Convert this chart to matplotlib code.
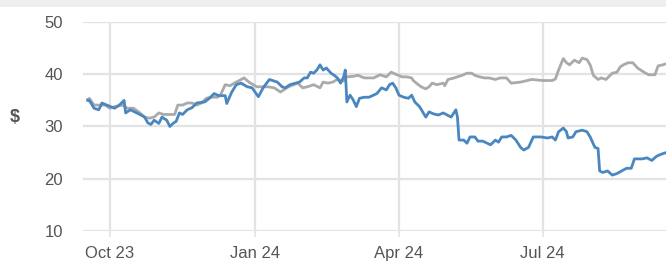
import matplotlib
matplotlib.use("Agg")
import matplotlib.pyplot as plt
import pandas as pd
from matplotlib.patches import Rectangle

# Serie azul
blue_dates = [
    "2023-09-17", "2023-09-18", "2023-09-21", "2023-09-24", "2023-09-26", "2023-09-29",
    "2023-10-04", "2023-10-07", "2023-10-10", "2023-10-11", "2023-10-14", "2023-10-20",
    "2023-10-23", "2023-10-25", "2023-10-27", "2023-10-29", "2023-11-01", "2023-11-03",
    "2023-11-06", "2023-11-08", "2023-11-10", "2023-11-12", "2023-11-14", "2023-11-16",
    "2023-11-19", "2023-11-22", "2023-11-25", "2023-11-30", "2023-12-03", "2023-12-06",
    "2023-12-09", "2023-12-13", "2023-12-14", "2023-12-17", "2023-12-20", "2023-12-23",
    "2023-12-27", "2023-12-30", "2024-01-03", "2024-01-06", "2024-01-10", "2024-01-15",
    "2024-01-18", "2024-01-20", "2024-01-23", "2024-01-29", "2024-02-01", "2024-02-03",
    "2024-02-05", "2024-02-07", "2024-02-09", "2024-02-11", "2024-02-13", "2024-02-15",
    "2024-02-18", "2024-02-20", "2024-02-22", "2024-02-24", "2024-02-26", "2024-02-27",
    "2024-02-28", "2024-03-01", "2024-03-03", "2024-03-05", "2024-03-07", "2024-03-10",
    "2024-03-13", "2024-03-18", "2024-03-21", "2024-03-24", "2024-03-26", "2024-03-28",
    "2024-03-30", "2024-04-01", "2024-04-04", "2024-04-07", "2024-04-09", "2024-04-11",
    "2024-04-14", "2024-04-16", "2024-04-18", "2024-04-20", "2024-04-23", "2024-04-26",
    "2024-04-29", "2024-05-04", "2024-05-07", "2024-05-08", "2024-05-09", "2024-05-12",
    "2024-05-14", "2024-05-16", "2024-05-19", "2024-05-21", "2024-05-24", "2024-05-29",
    "2024-06-01", "2024-06-03", "2024-06-05", "2024-06-08", "2024-06-11", "2024-06-14",
    "2024-06-17", "2024-06-19", "2024-06-22", "2024-06-25", "2024-06-30", "2024-07-04",
    "2024-07-07", "2024-07-09", "2024-07-11", "2024-07-14", "2024-07-16", "2024-07-17",
    "2024-07-20", "2024-07-22", "2024-07-26", "2024-07-29", "2024-07-31", "2024-08-03",
    "2024-08-05", "2024-08-06", "2024-08-08", "2024-08-11", "2024-08-14", "2024-08-17",
    "2024-08-20", "2024-08-23", "2024-08-26", "2024-08-28", "2024-09-02", "2024-09-05",
    "2024-09-08", "2024-09-11", "2024-09-14", "2024-09-17",
]
blue_values = [
    35.0, 35.0, 33.5, 33.2, 34.5, 34.1,
    33.5, 34.1, 35.0, 32.6, 33.2, 32.3,
    31.8, 30.7, 30.4, 31.2, 30.6, 31.8,
    31.2, 30.0, 30.6, 31.0, 32.6, 32.3,
    33.2, 33.6, 34.5, 34.7, 35.4, 36.3,
    35.9, 35.9, 34.4, 36.5, 38.0, 38.3,
    37.6, 37.4, 35.7, 37.4, 39.0, 38.5,
    37.6, 37.4, 38.0, 38.5, 39.3, 39.3,
    40.4, 40.2, 40.8, 41.8, 40.8, 41.2,
    40.2, 39.8, 39.3, 38.3, 39.5, 40.8,
    34.7, 36.0, 35.1, 33.8, 35.4, 35.6,
    35.6, 36.3, 37.4, 37.0, 38.0, 38.3,
    37.4, 36.0, 35.6, 35.4, 36.0, 34.7,
    33.8, 32.8, 31.8, 32.8, 32.4, 32.2,
    32.6, 31.8, 33.2, 31.8, 27.4, 27.4,
    26.8, 28.0, 28.0, 27.2, 27.2, 26.5,
    27.4, 27.0, 28.0, 28.0, 28.3, 27.4,
    26.0, 25.5, 26.0, 28.0, 28.0, 27.8,
    28.0, 27.4, 29.0, 29.7, 29.0, 27.8,
    28.0, 29.0, 29.3, 29.0, 28.0, 26.0,
    25.8, 21.5, 21.2, 21.5, 20.7, 21.0,
    21.5, 22.0, 22.0, 23.8, 23.8, 24.0,
    23.5, 24.3, 24.7, 25.0,
]

# Serie gris
gray_dates = [
    "2023-09-17", "2023-09-18", "2023-09-21", "2023-09-28", "2023-10-01", "2023-10-04",
    "2023-10-09", "2023-10-12", "2023-10-16", "2023-10-20", "2023-10-23", "2023-10-26",
    "2023-10-29", "2023-11-01", "2023-11-04", "2023-11-08", "2023-11-11", "2023-11-13",
    "2023-11-16", "2023-11-19", "2023-11-22", "2023-11-25", "2023-11-28", "2023-12-01",
    "2023-12-04", "2023-12-08", "2023-12-10", "2023-12-13", "2023-12-16", "2023-12-20",
    "2023-12-25", "2023-12-28", "2024-01-02", "2024-01-09", "2024-01-13", "2024-01-17",
    "2024-01-22", "2024-01-28", "2024-01-31", "2024-02-03", "2024-02-07", "2024-02-11",
    "2024-02-13", "2024-02-16", "2024-02-19", "2024-02-22", "2024-02-26", "2024-02-28",
    "2024-03-03", "2024-03-06", "2024-03-10", "2024-03-13", "2024-03-16", "2024-03-20",
    "2024-03-24", "2024-03-27", "2024-03-30", "2024-04-03", "2024-04-06", "2024-04-09",
    "2024-04-10", "2024-04-12", "2024-04-15", "2024-04-18", "2024-04-20", "2024-04-22",
    "2024-04-25", "2024-04-29", "2024-04-30", "2024-05-02", "2024-05-06", "2024-05-11",
    "2024-05-14", "2024-05-17", "2024-05-19", "2024-05-22", "2024-05-25", "2024-05-28",
    "2024-06-01", "2024-06-04", "2024-06-08", "2024-06-11", "2024-06-17", "2024-06-24",
    "2024-07-01", "2024-07-07", "2024-07-09", "2024-07-11", "2024-07-14", "2024-07-16",
    "2024-07-18", "2024-07-21", "2024-07-24", "2024-07-26", "2024-07-29", "2024-07-31",
    "2024-08-02", "2024-08-05", "2024-08-07", "2024-08-10", "2024-08-14", "2024-08-17",
    "2024-08-19", "2024-08-21", "2024-08-24", "2024-08-27", "2024-08-30", "2024-09-03",
    "2024-09-06", "2024-09-10", "2024-09-12", "2024-09-15", "2024-09-17",
]
gray_values = [
    35.2, 35.4, 34.1, 34.1, 33.5, 33.8,
    34.1, 33.5, 33.5, 32.6, 31.8, 31.6,
    31.8, 32.6, 32.3, 32.3, 32.3, 34.1,
    34.1, 34.5, 34.5, 34.1, 34.5, 35.4,
    35.6, 35.6, 36.0, 38.0, 37.8, 38.5,
    39.3, 38.5, 37.6, 37.6, 37.4, 36.6,
    37.6, 38.3, 37.4, 37.6, 38.0, 37.4,
    38.5, 38.3, 38.5, 39.0, 38.7, 39.5,
    39.6, 39.8, 39.3, 39.3, 39.3, 39.9,
    39.5, 40.4, 40.0, 39.5, 39.5, 39.3,
    38.8, 38.3, 37.6, 37.2, 37.6, 38.3,
    38.0, 38.3, 37.8, 39.0, 39.3, 39.8,
    40.2, 40.2, 39.8, 39.5, 39.3, 39.3,
    39.0, 39.3, 39.3, 38.3, 38.5, 39.0,
    38.8, 38.8, 39.1, 40.8, 43.0, 42.2,
    41.8, 42.7, 42.2, 43.1, 42.8, 41.8,
    39.8, 39.0, 39.3, 39.0, 40.2, 40.4,
    41.4, 41.8, 42.2, 42.2, 41.2, 40.4,
    39.9, 39.9, 41.6, 41.8, 42.0,
]

y_ticks = [10, 20, 30, 40, 50]
x_ticks = ["2023-10-01", "2024-01-01", "2024-04-01", "2024-07-01"]
x_tick_labels = ["Oct 23", "Jan 24", "Apr 24", "Jul 24"]

plt.rcParams['font.family'] = ['Liberation Sans', 'DejaVu Sans']

fig = plt.figure(figsize=(6.66, 2.61), dpi=100)
# franja gris arriba
fig.patches.append(Rectangle((0, 1 - 7 / 261), 1, 7 / 261, transform=fig.transFigure,
                             facecolor='#eeeeee', edgecolor='none', zorder=0))
ax = fig.add_axes([83 / 666, 30 / 261, 1 - 83 / 666, 209 / 261])

grid_c = '#e3e3e3'
ax.plot(pd.to_datetime(gray_dates), gray_values, color='#aaaaaa', lw=2.0, zorder=3)
ax.plot(pd.to_datetime(blue_dates), blue_values, color='#4a86c0', lw=2.0, zorder=4)

ax.set_ylim(10, 50)
ax.set_xlim(pd.Timestamp("2023-09-14"), pd.Timestamp("2024-09-17"))
ax.set_yticks(y_ticks)
ax.set_xticks(pd.to_datetime(x_ticks))
ax.set_xticklabels(x_tick_labels)

for s in ax.spines.values():
    s.set_visible(False)
ax.grid(True, color=grid_c, lw=1.6, zorder=0)
ax.tick_params(axis='y', length=0, pad=14.5, labelsize=12, labelcolor='#555555')
ax.tick_params(axis='x', length=4, width=1.2, color=grid_c, pad=7,
               labelsize=12, labelcolor='#555555')
ax.set_ylabel('$', rotation=0, fontsize=13, fontweight='bold', color='#555555',
              labelpad=0)
ax.yaxis.set_label_coords(-68 / 583, 0.5)

fig.savefig('out.png', dpi=100)
